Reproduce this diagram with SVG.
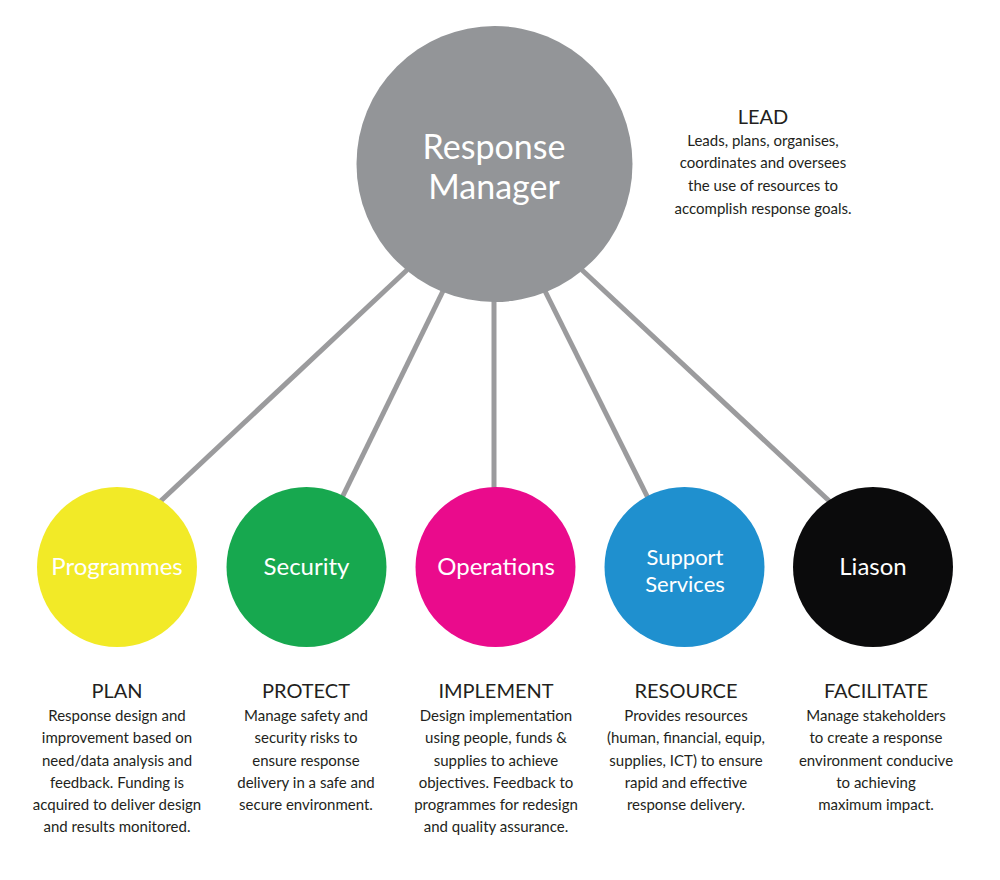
<svg xmlns="http://www.w3.org/2000/svg" width="1000" height="880" viewBox="0 0 1000 880">
  <style>
    .link { stroke: #9b9b9d; stroke-width: 5; fill: none; }
    .hub-label { font-family: Lato, "Liberation Sans", sans-serif; font-size: 34px; fill: #ffffff; text-anchor: middle; }
    .node-label { font-family: Lato, "Liberation Sans", sans-serif; font-size: 24px; fill: #ffffff; text-anchor: middle; }
    .node-label-two { font-family: Lato, "Liberation Sans", sans-serif; font-size: 22px; fill: #ffffff; text-anchor: middle; }
    .head { font-family: Lato, "Liberation Sans", sans-serif; font-size: 20px; fill: #231f20; text-anchor: middle; }
    .body { font-family: Lato, "Liberation Sans", sans-serif; font-size: 15px; fill: #231f20; text-anchor: middle; }
  </style>
  <rect width="1000" height="880" fill="#ffffff"/>

  <!-- spokes from the manager to each function -->
  <g id="connectors">
    <line class="link" x1="407" y1="270" x2="150" y2="511"/>
    <line class="link" x1="443" y1="291" x2="336" y2="510"/>
    <line class="link" x1="494" y1="300" x2="494" y2="510"/>
    <line class="link" x1="545" y1="291" x2="654" y2="510"/>
    <line class="link" x1="582" y1="270" x2="840" y2="511"/>
  </g>

  <g id="response-manager">
    <circle cx="494.5" cy="164" r="138" fill="#939598"/>
    <text class="hub-label" x="494" y="159">Response</text>
    <text class="hub-label" x="494" y="199">Manager</text>
  </g>

  <g id="lead">
    <text class="head" x="763" y="124">LEAD</text>
    <text class="body" x="763" y="146">Leads, plans, organises,</text>
    <text class="body" x="763" y="168">coordinates and oversees</text>
    <text class="body" x="763" y="191">the use of resources to</text>
    <text class="body" x="763" y="214">accomplish response goals.</text>
  </g>

  <g id="programmes">
    <circle cx="117" cy="567" r="80" fill="#f2ea27"/>
    <text class="node-label" x="117" y="575">Programmes</text>
  </g>
  <g id="security">
    <circle cx="306.5" cy="567" r="80" fill="#17a84f"/>
    <text class="node-label" x="306.5" y="575">Security</text>
  </g>
  <g id="operations">
    <circle cx="495.5" cy="567" r="80" fill="#ea0b8c"/>
    <text class="node-label" x="496" y="575">Operations</text>
  </g>
  <g id="support-services">
    <circle cx="684.5" cy="567" r="80" fill="#1f90cf"/>
    <text class="node-label-two" x="685" y="565">Support</text>
    <text class="node-label-two" x="685" y="592">Services</text>
  </g>
  <g id="liason">
    <circle cx="873" cy="567" r="80" fill="#0b0b0c"/>
    <text class="node-label" x="873" y="575">Liason</text>
  </g>

  <g id="plan">
    <text class="head" x="117" y="698">PLAN</text>
    <text class="body" x="117" y="721">Response design and</text>
    <text class="body" x="117" y="743">improvement based on</text>
    <text class="body" x="117" y="766">need/data analysis and</text>
    <text class="body" x="117" y="788">feedback. Funding is</text>
    <text class="body" x="117" y="810">acquired to deliver design</text>
    <text class="body" x="117" y="832">and results monitored.</text>
  </g>
  <g id="protect">
    <text class="head" x="306" y="698">PROTECT</text>
    <text class="body" x="306" y="721">Manage safety and</text>
    <text class="body" x="306" y="743">security risks to</text>
    <text class="body" x="306" y="766">ensure response</text>
    <text class="body" x="306" y="788">delivery in a safe and</text>
    <text class="body" x="306" y="810">secure environment.</text>
  </g>
  <g id="implement">
    <text class="head" x="496" y="698">IMPLEMENT</text>
    <text class="body" x="496" y="721">Design implementation</text>
    <text class="body" x="496" y="743">using people, funds &amp;</text>
    <text class="body" x="496" y="766">supplies to achieve</text>
    <text class="body" x="496" y="788">objectives. Feedback to</text>
    <text class="body" x="496" y="810">programmes for redesign</text>
    <text class="body" x="496" y="832">and quality assurance.</text>
  </g>
  <g id="resource">
    <text class="head" x="686" y="698">RESOURCE</text>
    <text class="body" x="686" y="721">Provides resources</text>
    <text class="body" x="686" y="743">(human, financial, equip,</text>
    <text class="body" x="686" y="766">supplies, ICT) to ensure</text>
    <text class="body" x="686" y="788">rapid and effective</text>
    <text class="body" x="686" y="810">response delivery.</text>
  </g>
  <g id="facilitate">
    <text class="head" x="876" y="698">FACILITATE</text>
    <text class="body" x="876" y="721">Manage stakeholders</text>
    <text class="body" x="876" y="743">to create a response</text>
    <text class="body" x="876" y="766">environment conducive</text>
    <text class="body" x="876" y="788">to achieving</text>
    <text class="body" x="876" y="810">maximum impact.</text>
  </g>
</svg>
